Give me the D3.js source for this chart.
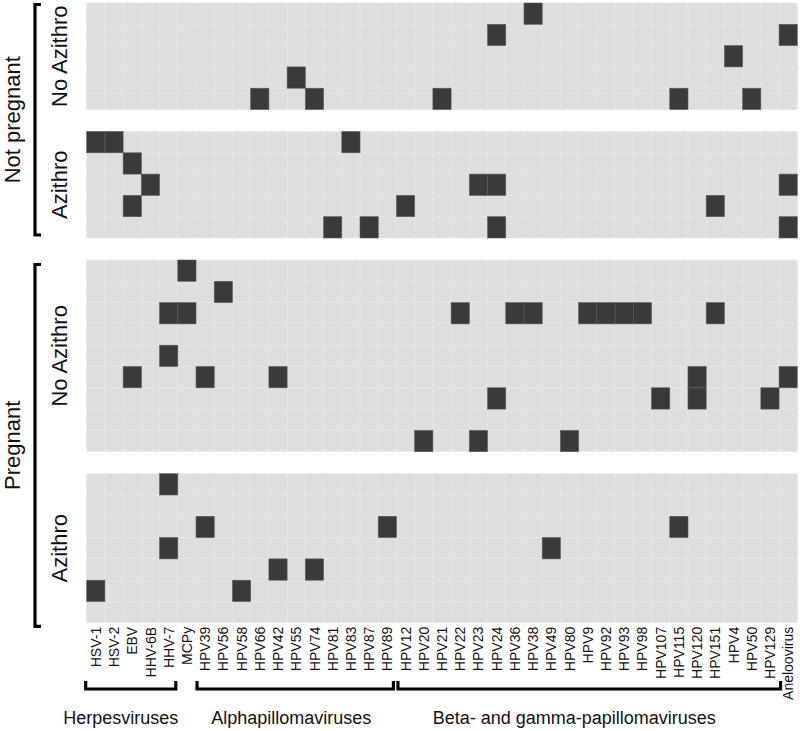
<!DOCTYPE html>
<html>
<head>
<meta charset="utf-8">
<script src="https://cdn.jsdelivr.net/npm/d3@7/dist/d3.min.js"></script>
<style>
  html, body { margin: 0; padding: 0; background: #fff; }
  svg { display: block; }
  text { font-family: "Liberation Sans", Arial, Helvetica, sans-serif; fill: #111; }
</style>
</head>
<body>
<svg id="chart" width="800" height="731"></svg>
<script>
// ---------------- DATA ----------------
const viruses = ["HSV-1","HSV-2","EBV","HHV-6B","HHV-7","MCPy","HPV39","HPV56","HPV58","HPV66",
  "HPV42","HPV55","HPV74","HPV81","HPV83","HPV87","HPV89","HPV12","HPV20","HPV21","HPV22",
  "HPV23","HPV24","HPV36","HPV38","HPV49","HPV80","HPV9","HPV92","HPV93","HPV98","HPV107",
  "HPV115","HPV120","HPV151","HPV4","HPV50","HPV129","Aneloovirus"];

const pregnancyGroups = ["Not pregnant", "Pregnant"];
const treatmentGroups = ["No Azithro", "Azithro"];

// each inner array = one participant row, listing the viruses detected
const notPregnantNoAzithro = [
  ["HPV38"],
  ["HPV24","Aneloovirus"],
  ["HPV4"],
  ["HPV55"],
  ["HPV66","HPV74","HPV21","HPV115","HPV50"]
];
const notPregnantAzithro = [
  ["HSV-1","HSV-2","HPV83"],
  ["EBV"],
  ["HHV-6B","HPV23","HPV24","Aneloovirus"],
  ["EBV","HPV12","HPV151"],
  ["HPV81","HPV87","HPV24","Aneloovirus"]
];
const pregnantNoAzithro = [
  ["MCPy"],
  ["HPV56"],
  ["HHV-7","MCPy","HPV22","HPV36","HPV38","HPV9","HPV92","HPV93","HPV98","HPV151"],
  [],
  ["HHV-7"],
  ["EBV","HPV39","HPV42","HPV120","Aneloovirus"],
  ["HPV24","HPV107","HPV120","HPV129"],
  [],
  ["HPV20","HPV23","HPV80"]
];
const pregnantAzithro = [
  ["HHV-7"],
  [],
  ["HPV39","HPV89","HPV115"],
  ["HHV-7","HPV49"],
  ["HPV42","HPV74"],
  ["HSV-1","HPV58"],
  []
];

const virusGroups = ["Herpesviruses", "Alphapillomaviruses", "Beta- and gamma-papillomaviruses"];
const groupFirst = ["HSV-1", "HPV39", "HPV12"];
const groupLast  = ["HHV-7", "HPV89", "HPV129"];

// ---------------- LAYOUT ----------------
const svg = d3.select("#chart");
const plotLeft = 86.7, plotRight = 797.3, plotTop = 3;
const rowH = 21.3, gap = 22;

const panels = [
  { preg: pregnancyGroups[0], trt: treatmentGroups[0], rows: notPregnantNoAzithro },
  { preg: pregnancyGroups[0], trt: treatmentGroups[1], rows: notPregnantAzithro },
  { preg: pregnancyGroups[1], trt: treatmentGroups[0], rows: pregnantNoAzithro },
  { preg: pregnancyGroups[1], trt: treatmentGroups[1], rows: pregnantAzithro }
];

const x = d3.scaleBand().domain(viruses).range([plotLeft, plotRight]).padding(0);

let cursor = plotTop;
panels.forEach(p => {
  p.top = cursor;
  p.bottom = cursor + p.rows.length * rowH;
  p.y = d3.scaleBand().domain(d3.range(p.rows.length)).range([p.top, p.bottom]).padding(0);
  cursor = p.bottom + gap;
});
const plotBottom = panels[panels.length - 1].bottom;

// ---------------- TILES ----------------
panels.forEach(p => {
  const g = svg.append("g");
  const cells = [];
  p.rows.forEach((row, ri) => {
    viruses.forEach(v => cells.push({ r: ri, v: v, on: row.includes(v) }));
  });
  g.selectAll("rect.bg").data(cells.filter(c => !c.on)).join("rect")
    .attr("x", d => x(d.v)).attr("y", d => p.y(d.r))
    .attr("width", x.bandwidth()).attr("height", p.y.bandwidth())
    .attr("fill", "#dedede").attr("stroke", "#e6e6e6").attr("stroke-width", 0.6);
  g.selectAll("rect.on").data(cells.filter(c => c.on)).join("rect")
    .attr("x", d => x(d.v)).attr("y", d => p.y(d.r))
    .attr("width", x.bandwidth()).attr("height", p.y.bandwidth())
    .attr("fill", "#3a3a3a").attr("stroke", "#5a5a5a").attr("stroke-width", 0.6);

  // treatment strip label
  svg.append("text")
    .attr("transform", `translate(66.5,${(p.top + p.bottom) / 2}) rotate(-90)`)
    .attr("text-anchor", "middle")
    .style("font-size", "22px")
    .text(p.trt);
});

// ---------------- PREGNANCY BRACKETS ----------------
pregnancyGroups.forEach((pg, i) => {
  const ps = panels.filter(p => p.preg === pg);
  const t = ps[0].top + (i === 0 ? 0 : 3);
  const b = ps[ps.length - 1].bottom + (i === 0 ? -1.5 : 5);
  svg.append("path")
    .attr("d", `M41,${t + 1.5} H35 V${b - 1.5} H41`)
    .attr("fill", "none").attr("stroke", "#000").attr("stroke-width", 3.2);
  svg.append("text")
    .attr("transform", `translate(19.5,${(t + b) / 2}) rotate(-90)`)
    .attr("text-anchor", "middle")
    .style("font-size", "22px")
    .text(pg);
});

// ---------------- X AXIS ----------------
const ax = svg.append("g").attr("transform", `translate(0,${plotBottom})`)
  .call(d3.axisBottom(x).tickSize(0));
ax.select(".domain").remove();
ax.selectAll("text")
  .attr("transform", "rotate(-90)")
  .attr("text-anchor", "end")
  .attr("x", -4).attr("y", 0).attr("dy", "0.36em")
  .style("font-size", "14px")
  .style("font-family", '"Liberation Sans", Arial, sans-serif')
  .attr("fill", "#111");

// ---------------- VIRUS GROUP BRACKETS ----------------
const labelShift = [-10, -4, -15];
const startPad = [-1, 1, 1.5];
const endPad = [-2, -3, 1.5];
virusGroups.forEach((name, i) => {
  const x0 = x(groupFirst[i]) + startPad[i];
  const x1 = x(groupLast[i]) + x.bandwidth() + endPad[i];
  const yb = 689, yt = 681;
  svg.append("path")
    .attr("d", `M${x0},${yt} V${yb} H${x1} V${yt}`)
    .attr("fill", "none").attr("stroke", "#000").attr("stroke-width", 3.2);
  svg.append("text")
    .attr("x", (x0 + x1) / 2 + labelShift[i]).attr("y", 724)
    .attr("text-anchor", "middle")
    .style("font-size", "18px")
    .text(name);
});
</script>
</body>
</html>
